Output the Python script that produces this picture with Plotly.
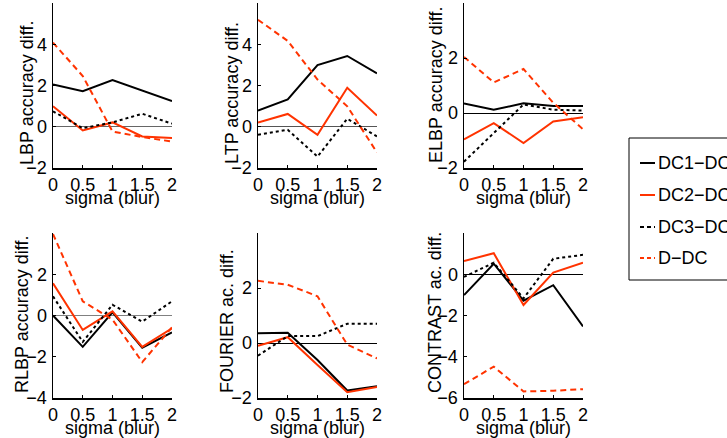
import plotly.graph_objects as go
from plotly.subplots import make_subplots

W, H = 727, 438

# ---------------- data ----------------
sigma = [0, 0.5, 1, 1.5, 2]
sigma_labels = ["0", "0.5", "1", "1.5", "2"]
series_names = ["DC1−DC", "DC2−DC", "DC3−DC", "D−DC"]

lbp_dc1 = [2.05, 1.72, 2.26, 1.75, 1.24]
lbp_dc2 = [0.99, -0.18, 0.21, -0.47, -0.55]
lbp_dc3 = [0.75, -0.07, 0.21, 0.63, 0.15]
lbp_d = [4.08, 2.46, -0.23, -0.50, -0.72]

ltp_dc1 = [0.78, 1.32, 2.99, 3.43, 2.59]
ltp_dc2 = [0.21, 0.62, -0.39, 1.89, 0.54]
ltp_dc3 = [-0.39, -0.15, -1.45, 0.39, -0.47]
ltp_d = [5.19, 4.16, 2.29, 0.99, -1.25]

elbp_dc1 = [0.35, 0.12, 0.35, 0.25, 0.25]
elbp_dc2 = [-0.96, -0.37, -1.09, -0.31, -0.15]
elbp_dc3 = [-1.77, -0.72, 0.31, 0.12, 0.09]
elbp_d = [2.04, 1.11, 1.60, 0.37, -0.59]

rlbp_dc1 = [0.00, -1.52, 0.15, -1.56, -0.82]
rlbp_dc2 = [1.56, -0.70, 0.20, -1.52, -0.62]
rlbp_dc3 = [0.93, -1.28, 0.52, -0.30, 0.69]
rlbp_d = [3.95, 0.69, -0.20, -2.26, -0.57]

fourier_dc1 = [0.35, 0.37, -0.62, -1.73, -1.57]
fourier_dc2 = [-0.10, 0.21, -0.80, -1.79, -1.60]
fourier_dc3 = [-0.46, 0.25, 0.25, 0.70, 0.70]
fourier_d = [2.26, 2.12, 1.70, -0.06, -0.56]

contrast_dc1 = [-1.01, 0.51, -1.28, -0.53, -2.53]
contrast_dc2 = [0.64, 1.02, -1.49, 0.08, 0.56]
contrast_dc3 = [-0.13, 0.56, -1.17, 0.75, 0.94]
contrast_d = [-5.33, -4.48, -5.68, -5.65, -5.57]

panel_titles = ["LBP accuracy diff.", "LTP accuracy diff.", "ELBP accuracy diff.",
                "RLBP accuracy diff.", "FOURIER ac. diff.", "CONTRAST ac. diff."]
panel_data = [
    [lbp_dc1, lbp_dc2, lbp_dc3, lbp_d],
    [ltp_dc1, ltp_dc2, ltp_dc3, ltp_d],
    [elbp_dc1, elbp_dc2, elbp_dc3, elbp_d],
    [rlbp_dc1, rlbp_dc2, rlbp_dc3, rlbp_d],
    [fourier_dc1, fourier_dc2, fourier_dc3, fourier_d],
    [contrast_dc1, contrast_dc2, contrast_dc3, contrast_d],
]
y_ranges = [[-2, 6], [-2, 6], [-2, 4], [-4, 4], [-2, 4], [-6, 2]]
y_ticks = [[-2, 0, 2, 4], [-2, 0, 2, 4], [-2, 0, 2], [-4, -2, 0, 2], [-2, 0, 2], [-6, -4, -2, 0]]
zero_colors = ["#666666", "#555555", "#000000", "#808080", "#000000", "#000000"]

# ---------------- style ----------------
BLACK = "#000000"
RED = "#ff3300"
colors = [BLACK, RED, BLACK, RED]
dashes = ["solid", "solid", "3px,3px", "6px,4px"]
legend_dashes = ["solid", "solid", "4px,3px", "4px,3px"]
FONT = "Liberation Sans, Arial, Helvetica, sans-serif"
FS = 18

def px(x):
    return x / W

def py(y):
    return 1 - y / H

col_px = [(53, 172), (258, 377), (464, 583)]
row_px = [(3, 168), (233, 398)]
title_pos = [(27, 93), (232, 93), (436, 85), (22, 315), (227, 321), (435, 313)]
legend_rows = [163, 195, 227, 258]

fig = make_subplots(rows=2, cols=3)

for i in range(6):
    r, c = i // 3 + 1, i % 3 + 1
    for k in range(4):
        fig.add_trace(go.Scatter(
            x=sigma, y=panel_data[i][k], mode="lines",
            name=series_names[k], legendgroup=series_names[k],
            showlegend=False,
            line=dict(color=colors[k], width=2, dash=dashes[k]),
        ), row=r, col=c)

annotations = []
shapes = []
for i in range(6):
    r, c = i // 3, i % 3
    xa = "xaxis" if i == 0 else f"xaxis{i+1}"
    ya = "yaxis" if i == 0 else f"yaxis{i+1}"
    x0, x1 = col_px[c]
    y0, y1 = row_px[r]
    fig.layout[xa].update(
        domain=[px(x0), px(x1)], range=[0, 2],
        tickvals=sigma, ticktext=sigma_labels,
        showline=True, linecolor=BLACK, linewidth=1.5,
        ticks="inside", ticklen=3, tickcolor=BLACK,
        showgrid=False, zeroline=False,
        tickfont=dict(family=FONT, size=FS, color=BLACK),
        ticklabelstandoff=0,
    )
    fig.layout[ya].update(
        domain=[py(y1), py(y0)], range=y_ranges[i],
        tickvals=y_ticks[i],
        showline=True, linecolor=BLACK, linewidth=1.5,
        ticks="inside", ticklen=3, tickcolor=BLACK,
        showgrid=False, zeroline=True, zerolinecolor=zero_colors[i], zerolinewidth=1,
        tickfont=dict(family=FONT, size=FS, color=BLACK),
        ticklabelstandoff=1,
    )
    tx, ty = title_pos[i]
    annotations.append(dict(
        text=panel_titles[i], xref="paper", yref="paper",
        x=px(tx), y=py(ty), xanchor="center", yanchor="middle",
        textangle=-90, showarrow=False,
        font=dict(family=FONT, size=FS, color=BLACK),
    ))
    annotations.append(dict(
        text="sigma (blur)", xref="paper", yref="paper",
        x=px((x0 + x1) / 2), y=py(y1 + 30), xanchor="center", yanchor="middle",
        showarrow=False, font=dict(family=FONT, size=FS, color=BLACK),
    ))

# legend (box, line samples, labels)
shapes.append(dict(type="rect", xref="paper", yref="paper",
                   x0=px(629), x1=px(760), y0=py(280), y1=py(138),
                   line=dict(color=BLACK, width=1), fillcolor="rgba(0,0,0,0)"))
for k in range(4):
    yy = py(legend_rows[k])
    shapes.append(dict(type="line", xref="paper", yref="paper",
                       x0=px(640), x1=px(655), y0=yy, y1=yy,
                       line=dict(color=colors[k], width=2, dash=legend_dashes[k])))
    annotations.append(dict(
        text=series_names[k], xref="paper", yref="paper",
        x=px(656), y=yy, xanchor="left", yanchor="middle",
        showarrow=False, font=dict(family=FONT, size=FS, color=BLACK),
    ))

fig.update_layout(
    width=W, height=H,
    margin=dict(l=0, r=0, t=0, b=0, autoexpand=False),
    paper_bgcolor="white", plot_bgcolor="white",
    font=dict(family=FONT, size=FS, color=BLACK),
    annotations=annotations,
    shapes=shapes,
    showlegend=False,
    hovermode=False,
)

fig.write_html("out.html",
               config={"displayModeBar": False, "staticPlot": True},
               post_script="document.body.style.margin='0';document.body.style.padding='0';")
